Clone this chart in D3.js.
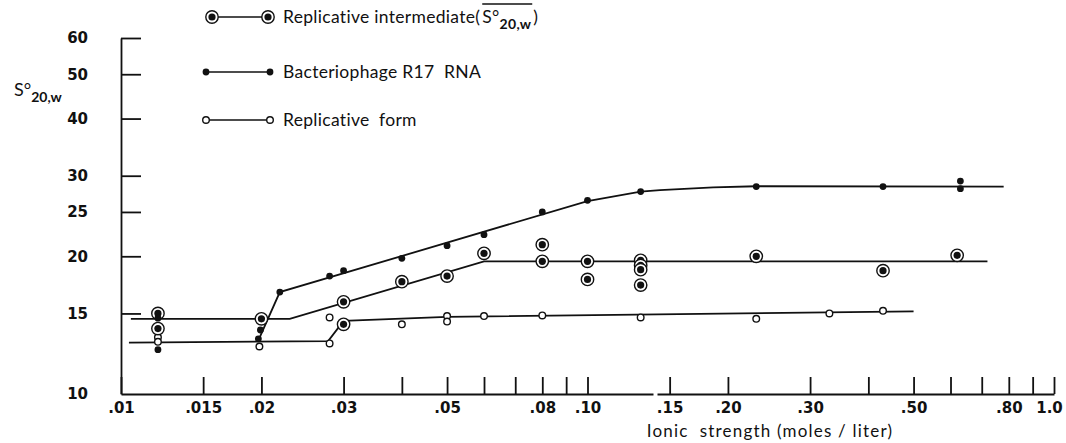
<!DOCTYPE html>
<html>
    <head>
        <script src="https://d3js.org/d3.v7.min.js" type="text/javascript"></script>
        <style>
            body { margin: 0; background: #fff; }
            svg { display: block; }
        </style>
    </head>
    <body>
    </body>
    <script>
        var width = 1066;
        var height = 443;

        // axis ticks
        var xTicks = [0.01, 0.015, 0.02, 0.03, 0.04, 0.05, 0.06, 0.07, 0.08, 0.09, 0.1,
                      0.15, 0.2, 0.3, 0.4, 0.5, 0.6, 0.7, 0.8, 0.9, 1.0];
        var xLabelTicks = [0.01, 0.015, 0.02, 0.03, 0.05, 0.08, 0.1, 0.15, 0.2, 0.3, 0.5, 0.8, 1.0];
        var xLabels = [".01", ".015", ".02", ".03", ".05", ".08", ".10", ".15", ".20", ".30", ".50", ".80", "1.0"];
        var yTicks = [15, 20, 25, 30, 40, 50, 60];
        var yLabelTicks = [10, 15, 20, 25, 30, 40, 50, 60];
        var yLabels = ["10", "15", "20", "25", "30", "40", "50", "60"];

        // Replicative intermediate (circled dots)
        var riX = [0.012, 0.012, 0.02, 0.03, 0.03, 0.04, 0.05, 0.06, 0.08, 0.08, 0.1, 0.1,
                   0.13, 0.13, 0.13, 0.13, 0.23, 0.43, 0.62];
        var riY = [15.0, 13.9, 14.6, 15.9, 14.2, 17.6, 18.1, 20.3, 21.2, 19.5, 19.5, 17.8,
                   19.6, 19.1, 18.7, 17.3, 20.0, 18.6, 20.1];
        var riLineX = [0.0105, 0.023, 0.06, 0.72];
        var riLineY = [14.6, 14.6, 19.5, 19.5];

        // Bacteriophage R17 RNA (filled dots)
        var r17X = [0.012, 0.012, 0.0197, 0.0199, 0.0219, 0.028, 0.03, 0.04, 0.05, 0.06, 0.08,
                    0.1, 0.13, 0.23, 0.43, 0.63, 0.63];
        var r17Y = [14.65, 12.5, 13.2, 13.8, 16.7, 18.1, 18.6, 19.8, 21.1, 22.3, 25.0,
                    26.5, 27.7, 28.4, 28.4, 29.2, 28.1];
        var r17LineX = [0.0197, 0.0219, 0.10, 0.13, 0.143, 0.186, 0.23, 0.78];
        var r17LineY = [13.1, 16.7, 26.4, 27.7, 27.9, 28.3, 28.45, 28.4];

        // Replicative form (open circles)
        var rfX = [0.012, 0.012, 0.0198, 0.028, 0.028, 0.04, 0.05, 0.05, 0.06, 0.08,
                   0.13, 0.23, 0.33, 0.43];
        var rfY = [13.3, 13.0, 12.7, 14.7, 12.9, 14.2, 14.8, 14.4, 14.8, 14.85,
                   14.7, 14.6, 15.0, 15.2];
        var rfLineX = [0.0104, 0.0278, 0.030, 0.05, 0.5];
        var rfLineY = [12.95, 13.05, 14.45, 14.75, 15.15];

        var legendNames = ["Replicative intermediate(", "Bacteriophage R17  RNA", "Replicative  form"];

        var font = "Lato, 'DejaVu Sans', sans-serif";
        var tickFont = "'DejaVu Sans', sans-serif";

        var svg = d3.select("body").append("svg")
                    .attr("width", width)
                    .attr("height", height);
        svg.append("rect").attr("width", width).attr("height", height).attr("fill", "#fff");

        var x = d3.scaleLog().domain([0.01, 1.0]).range([121, 1054]);
        var y = d3.scaleLog().domain([10, 60]).range([394, 38]);

        function zip(a, b) {
            return a.map(function(v, i) { return [v, b[i]]; });
        }

        // x axis, ticks pointing up
        var xAxis = d3.axisBottom(x)
                      .tickValues(xTicks)
                      .tickSize(-17)
                      .tickSizeOuter(0)
                      .tickPadding(8)
                      .tickFormat(function(d) {
                          var i = xLabelTicks.findIndex(function(t) { return Math.abs(t - d) < 1e-9; });
                          return i < 0 ? "" : xLabels[i];
                      });
        var gx = svg.append("g").attr("transform", "translate(0,394)").call(xAxis);
        // the printed axis has a small break between .10 and .15
        gx.select(".domain").attr("stroke-dasharray", "532,4,2000");

        // y axis, ticks pointing right
        var yAxis = d3.axisLeft(y)
                      .tickValues(yLabelTicks)
                      .tickSize(-20)
                      .tickSizeOuter(0)
                      .tickPadding(33)
                      .tickFormat(function(d) { return yLabels[yLabelTicks.indexOf(d)]; });
        var gy = svg.append("g").attr("transform", "translate(121,0)").call(yAxis);
        gy.selectAll(".tick").filter(function(d) { return yTicks.indexOf(d) < 0; })
          .select("line").remove();

        [gx, gy].forEach(function(g) {
            g.select(".domain").attr("stroke", "#111").attr("stroke-width", 1.8);
            g.selectAll(".tick line").attr("stroke", "#111").attr("stroke-width", 1.8);
            g.selectAll(".tick text")
             .attr("fill", "#111")
             .attr("font-family", tickFont)
             .attr("font-weight", 700)
             .attr("font-size", "15px");
        });
        // keep the last label inside the picture
        gx.selectAll(".tick").filter(function(d) { return d == 1.0; }).select("text").attr("dx", -5);

        // fitted lines
        var line = d3.line().x(function(d) { return x(d[0]); }).y(function(d) { return y(d[1]); });
        [zip(riLineX, riLineY), zip(r17LineX, r17LineY), zip(rfLineX, rfLineY)].forEach(function(pts) {
            svg.append("path")
               .attr("d", line(pts))
               .attr("fill", "none")
               .attr("stroke", "#111")
               .attr("stroke-width", 1.8);
        });

        // markers
        function circled(g, cx, cy) {
            g.append("circle").attr("cx", cx).attr("cy", cy).attr("r", 6.2)
             .attr("fill", "#fff").attr("stroke", "#111").attr("stroke-width", 1.4);
            g.append("circle").attr("cx", cx).attr("cy", cy).attr("r", 3.6).attr("fill", "#111");
        }
        function filled(g, cx, cy) {
            g.append("circle").attr("cx", cx).attr("cy", cy).attr("r", 3.4).attr("fill", "#111");
        }
        function open(g, cx, cy) {
            g.append("circle").attr("cx", cx).attr("cy", cy).attr("r", 3.3)
             .attr("fill", "#fff").attr("stroke", "#111").attr("stroke-width", 1.4);
        }

        var gm = svg.append("g");
        zip(rfX, rfY).forEach(function(d) { open(gm, x(d[0]), y(d[1])); });
        zip(riX, riY).forEach(function(d) { circled(gm, x(d[0]), y(d[1])); });
        zip(r17X, r17Y).forEach(function(d) { filled(gm, x(d[0]), y(d[1])); });

        // legend
        var legendY = [17, 72, 120];
        var markers = [circled, filled, open];
        var lg = svg.append("g");
        legendY.forEach(function(ly, i) {
            var x0 = i == 0 ? 212 : 206;
            var x1 = i == 0 ? 268 : 270;
            lg.append("line").attr("x1", x0).attr("x2", x1).attr("y1", ly).attr("y2", ly)
              .attr("stroke", "#111").attr("stroke-width", 1.6);
            markers[i](lg, x0, ly);
            markers[i](lg, x1, ly);
            var t = lg.append("text").attr("x", 283).attr("y", ly + 6)
                      .attr("font-family", font).attr("font-size", "17.5px").attr("fill", "#111")
                      .attr("letter-spacing", "0.3px")
                      .style("white-space", "pre");
            t.append("tspan").text(legendNames[i]);
            if (i == 0) {
                // S-bar 20,w with the bar drawn over it
                var s = t.append("tspan").attr("dx", 2).text("S\u00b0");
                var sub = t.append("tspan").attr("dy", 6).attr("font-size", "14px")
                           .attr("font-weight", 700).text("20,w");
                t.append("tspan").attr("dy", -6).attr("dx", 2).text(")");
                var bx0 = s.node().getStartPositionOfChar(0).x;
                var bx1 = sub.node().getEndPositionOfChar(3).x;
                lg.append("line").attr("x1", bx0).attr("x2", bx1 + 1).attr("y1", 4).attr("y2", 4)
                  .attr("stroke", "#111").attr("stroke-width", 1.5);
            }
        });

        // y axis title
        var yt = svg.append("text").attr("x", 14).attr("y", 96)
                    .attr("font-family", font).attr("font-size", "18px").attr("fill", "#111");
        yt.append("tspan").text("S\u00b0");
        yt.append("tspan").attr("dy", 6).attr("font-size", "14px").attr("font-weight", 700).text("20,w");

        // x axis title
        svg.append("text").attr("x", 770).attr("y", 437)
           .attr("text-anchor", "middle")
           .attr("font-family", font).attr("font-size", "17px").attr("fill", "#111")
           .attr("letter-spacing", "1.2px")
           .style("white-space", "pre")
           .text("Ionic  strength (moles / liter)");
    </script>
</html>
